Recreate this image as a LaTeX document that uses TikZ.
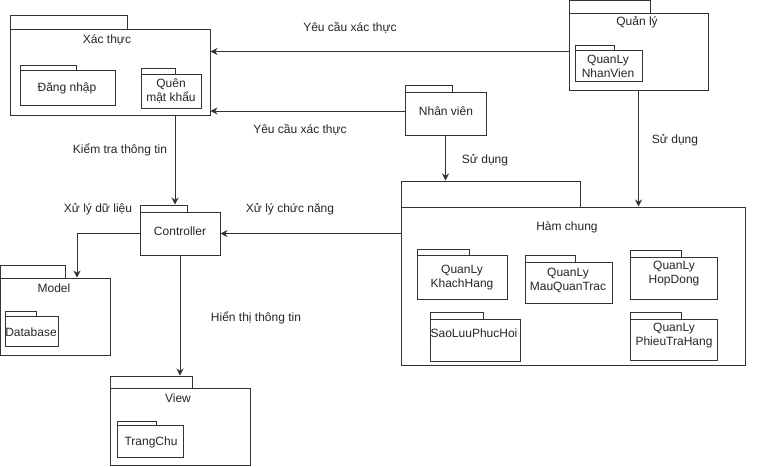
\documentclass[tikz,border=0pt]{standalone}
\usepackage{fontspec}
\setmainfont{Liberation Sans}
\usetikzlibrary{fit,arrows.meta,calc}
\tikzset{
  box/.style={draw=black!80, line width=1pt, inner sep=0pt},
  tabbox/.style={draw=black!80, line width=1pt, inner sep=0pt},
  txt/.style={font=\fontsize{12}{14}\selectfont, text=black!85, align=center, inner sep=0pt},
  arr/.style={draw=black!80, line width=1pt, -{Stealth[length=7pt,width=7pt]}},
}
% \pkg{name}{x1}{y1}{x2}{y2}{tab right x}{tab top y}
\newcommand{\pkg}[7]{%
  \node[tabbox, fit={(#2,#7) (#6,#3)}] (#1tab) {};
  \node[box, fit={(#2,#3) (#4,#5)}] (#1) {};
}
\begin{document}
\begin{tikzpicture}[x=1pt,y=-1pt]
\useasboundingbox (0,0) rectangle (781,466);
\fill[white] (0,0) rectangle (781,466);

% Xac thuc
\pkg{xt}{10}{29}{210}{115}{127}{15}
\node[txt] (xtt) at (107,40) {Xác thực};
\pkg{dn}{20}{70}{115}{105}{76}{65}
\node[txt] (dnt) at (67,88) {Đăng nhập};
\pkg{qmk}{141}{74}{201}{108}{175}{68}
\node[txt] (qmkt) at (171,91) {Quên\\mật khẩu};

% Quan ly
\pkg{ql}{569}{13}{708}{90}{650}{0}
\node[txt] (qlt) at (637,22) {Quản lý};
\pkg{qnv}{575}{50}{642}{81}{614}{45}
\node[txt] (qnvt) at (608,66) {QuanLy\\NhanVien};

% Nhan vien
\pkg{nv}{405}{92}{486}{135}{452}{85}
\node[txt] (nvt) at (446,111) {Nhân viên};

% Ham chung
\pkg{hc}{401}{207}{745}{365}{580}{181}
\node[txt] (hct) at (567,227) {Hàm chung};
\pkg{kh}{417}{255}{507}{299}{469}{249}
\node[txt] (kht) at (462,278) {QuanLy\\KhachHang};
\pkg{mqt}{525}{262}{612}{303}{575}{255}
\node[txt] (mqtt) at (568,280) {QuanLy\\MauQuanTrac};
\pkg{hd}{630}{257}{717}{299}{681}{250}
\node[txt] (hdt) at (674,274) {QuanLy\\HopDong};
\pkg{sl}{430}{319}{520}{361}{483}{312}
\node[txt] (slt) at (474,333) {SaoLuuPhucHoi};
\pkg{pth}{630}{319}{717}{360}{681}{312}
\node[txt] (ptht) at (674,336) {QuanLy\\PhieuTraHang};

% Controller
\pkg{ctrl}{140}{212}{220}{255}{187}{205}
\node[txt] (ctrlt) at (180,231) {Controller};

% Model
\pkg{md}{0}{278}{110}{355}{65}{265}
\node[txt] (mdt) at (54,288) {Model};
\pkg{db}{5}{316}{58}{346}{36}{311}
\node[txt] (dbt) at (31,332) {Database};

% View
\pkg{vw}{110}{388}{250}{465}{192}{376}
\node[txt] (vwt) at (178,398) {View};
\pkg{tc}{117}{425}{183}{457}{156}{421}
\node[txt] (tct) at (151,442) {TrangChu};

% Connectors
\draw[arr] (ql.west) -- (ql.west -| xt.east);
\draw[arr] ([yshift=2.5pt]nv.west) -- ([yshift=2.5pt]nv.west -| xt.east);
\draw[arr] (xt.south -| 175,0) -- (ctrltab.north -| 175,0);
\draw[arr] (nv.south) -- (nv.south |- hctab.north);
\draw[arr] (ql.south) -- (ql.south |- hc.north);
\draw[arr] (ctrl.east -| hc.west) -- (ctrl.east);
\draw[arr] (ctrl.west) -| (md.north -| 77,0);
\draw[arr] (ctrl.south) -- (ctrl.south |- vwtab.north);

% Labels
\node[txt] (l1) at (350,28) {Yêu cầu xác thực};
\node[txt] (l2) at (300,130) {Yêu cầu xác thực};
\node[txt] (l3) at (120,150) {Kiểm tra thông tin};
\node[txt] (l4) at (485,160) {Sử dụng};
\node[txt] (l5) at (675,140) {Sử dụng};
\node[txt] (l6) at (98,209) {Xử lý dữ liệu};
\node[txt] (l7) at (290,209) {Xử lý chức năng};
\node[txt] (l8) at (256,318) {Hiển thị thông tin};
\end{tikzpicture}
\end{document}
